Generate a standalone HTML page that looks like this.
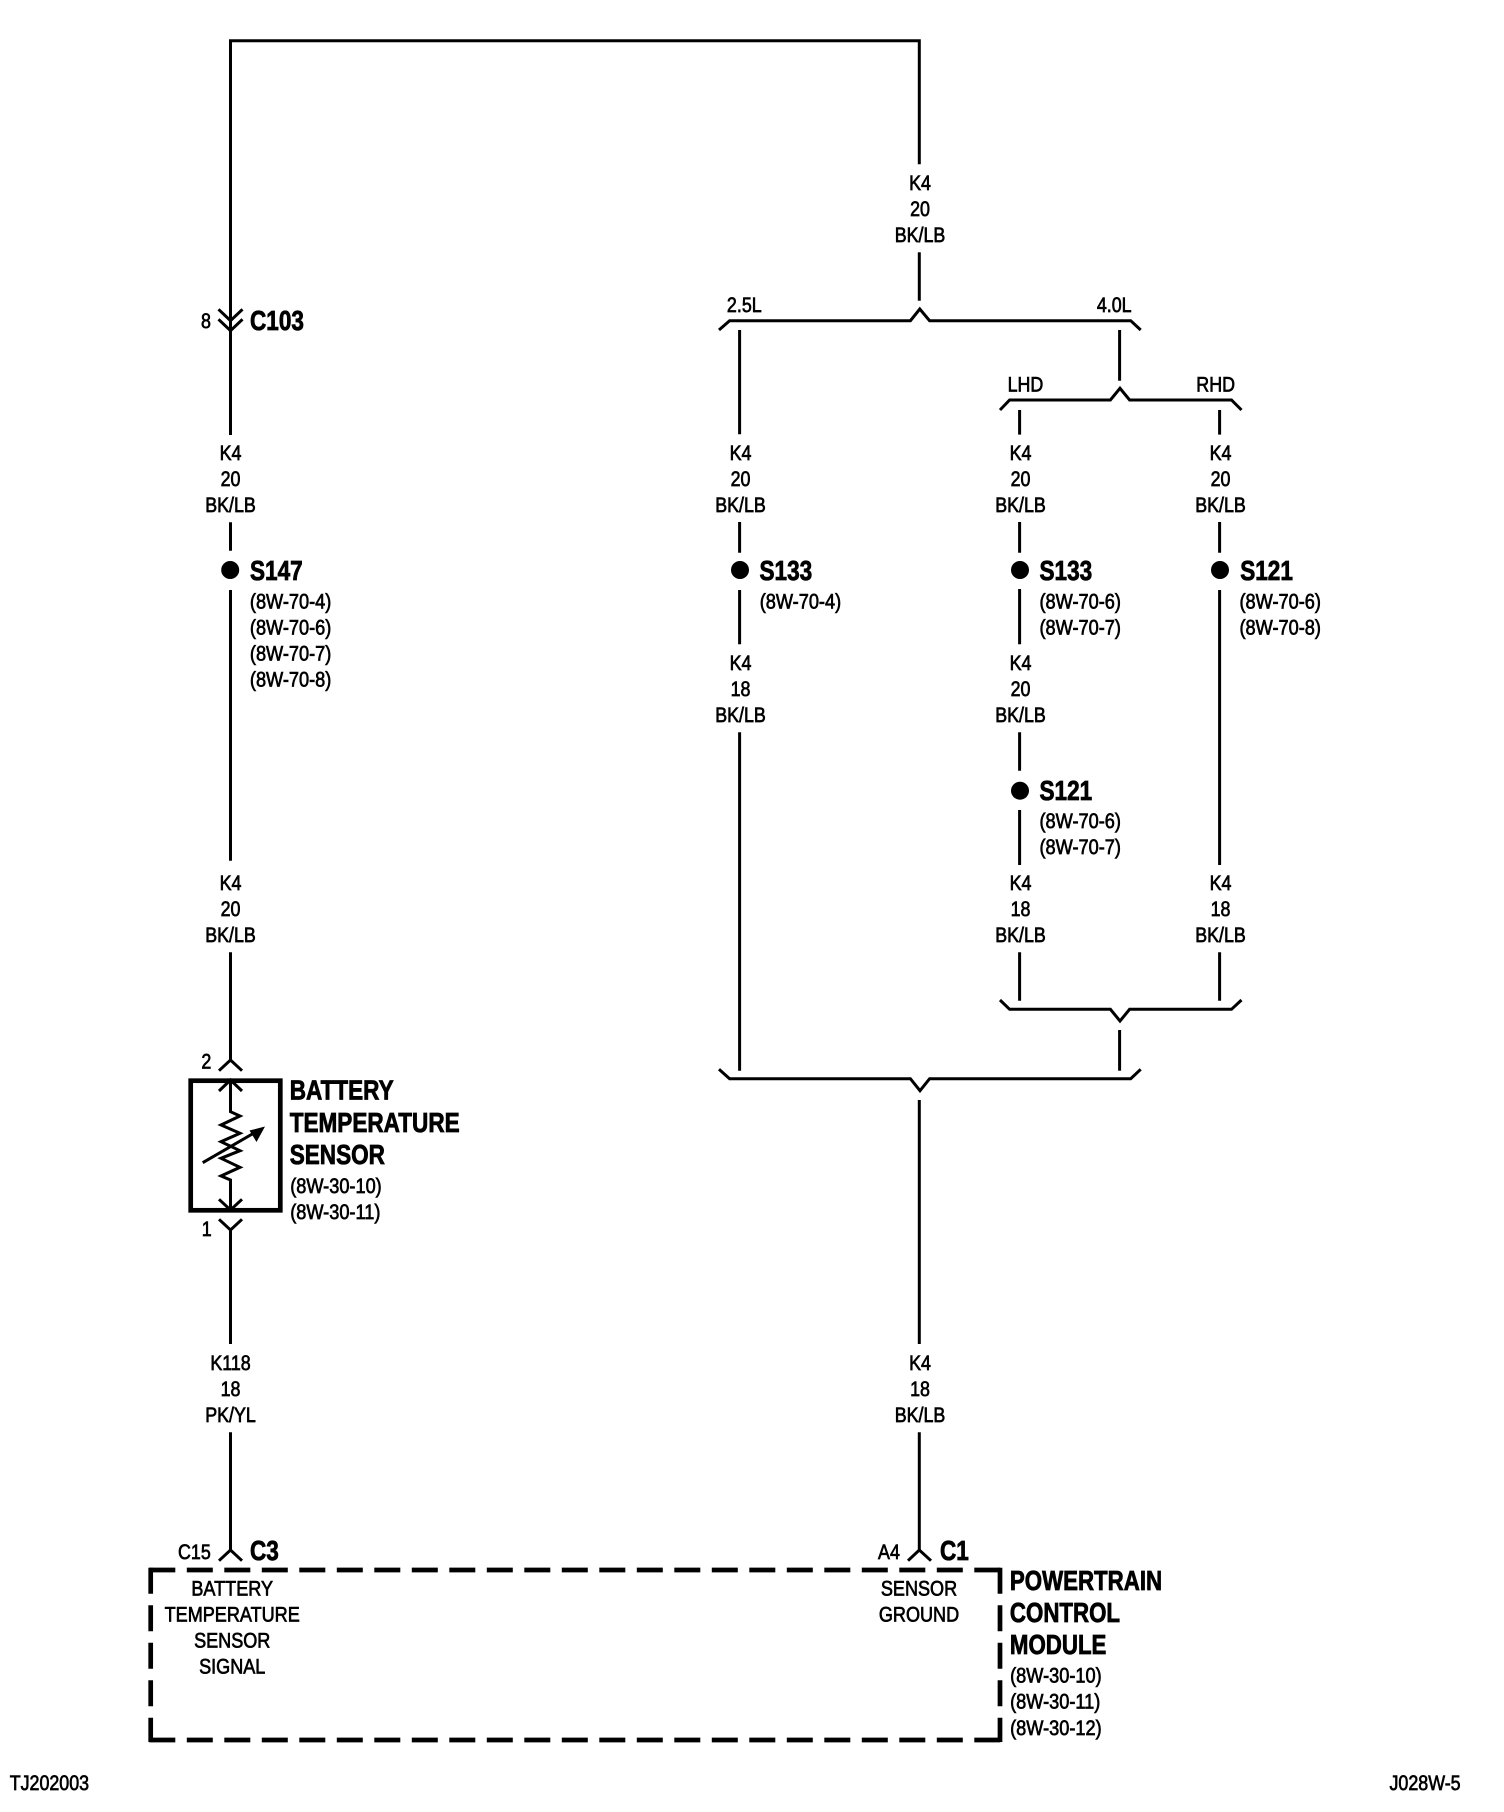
<!DOCTYPE html>
<html>
<head>
<meta charset="utf-8">
<title>Battery Temperature Sensor Wiring Diagram</title>
<style>
html,body{margin:0;padding:0;background:#fff;width:1504px;height:1812px;overflow:hidden}
svg{display:block}
.w{fill:none;stroke:#000;stroke-width:3;stroke-linejoin:miter;stroke-linecap:butt}
text{font-family:"Liberation Sans",sans-serif;fill:#000;stroke:#000;stroke-width:.7;text-rendering:geometricPrecision}
.r{font-size:21px}
.m{font-size:21px;text-anchor:middle}
.b{font-size:27.5px;font-weight:bold;stroke-width:.8}
.d{fill:none;stroke:#000;stroke-width:4.7;stroke-dasharray:26 11.5}
</style>
</head>
<body>
<svg width="1504" height="1812" viewBox="0 0 1504 1812" xmlns="http://www.w3.org/2000/svg">
<!-- Wires -->
<g class="w">
<path d="M230.5 435V40.7H919.3V164.3"/>
<path d="M919.3 252.3V300.7"/>
<path d="M218.5 309.3L230.5 320.7L242.5 309.3"/>
<path d="M218.5 319.3L230.5 330.7L242.5 319.3"/>
<path d="M230.5 522.3V550.7M230.5 590V860.7M230.5 952.3V1060"/>
<path d="M230.5 1230V1344M230.5 1432.3V1550"/>
<path d="M219 1070.7L230.5 1060L242 1070.7"/>
<path d="M219 1219.3L230.5 1230L242 1219.3"/>
<path d="M219 1560.7L230.5 1550L242 1560.7"/>

<path d="M719 330L729.6 320.7H910.4L919.8 309L929.6 320.7H1130.7L1140.7 330"/>
<path d="M739.6 330V434.3M739.6 522V552.7M739.6 590V644.3M739.6 732.3V1070.7"/>
<path d="M1119.6 330V380.7"/>
<path d="M1000 410L1009.6 400H1110.4L1120 388.3L1129.6 400H1231.5L1241.5 410"/>
<path d="M1019.6 410V434.6M1019.6 522V552.7M1019.6 589V644.3M1019.6 732.3V770.7M1019.6 810V865M1019.6 952.3V1000.7"/>
<path d="M1219.6 410V434.6M1219.6 522V552.7M1219.6 590V865M1219.6 952.3V1000.7"/>
<path d="M1000 1000L1009.6 1009.3H1110.4L1120 1021L1129.6 1009.3H1231.5L1241.5 1000"/>
<path d="M1119.6 1030V1070.7"/>
<path d="M719 1069.3L729.6 1078.7H910.4L920 1090.7L929.6 1078.7H1130.7L1140.7 1069.3"/>
<path d="M919.3 1100V1344M919.3 1432.3V1550"/>
<path d="M908 1560.7L919.3 1550L931 1560.7"/>
</g>

<!-- Splices -->
<circle cx="230.2" cy="570" r="9"/>
<circle cx="740" cy="570" r="9"/>
<circle cx="1020" cy="570" r="9"/>
<circle cx="1220" cy="570" r="9"/>
<circle cx="1020" cy="790.7" r="9"/>

<!-- Sensor -->
<rect x="190.7" y="1080.7" width="89.6" height="129.6" fill="none" stroke="#000" stroke-width="4.7"/>
<g class="w">
<path d="M219 1091L230.5 1080L242 1091"/>
<path d="M219 1199.3L230.5 1210L242 1199.3"/>
<path d="M230.5 1080V1111.7L240 1116L221 1125L240 1133.3L221 1141.7L240 1150.7L221 1158.3L240 1167.3L221 1176L230.5 1180V1210"/>
<path d="M202.7 1162.7L254 1133"/>
</g>
<path d="M265 1126.5L249.5 1130.5L256.5 1142Z"/>

<!-- PCM dashed box -->
<path class="d" d="M149.3 1570H1002.4"/>
<path class="d" d="M149.3 1740H1002.4"/>
<path class="d" d="M150.7 1567.7V1742"/>
<path class="d" d="M1000 1567.7V1742"/>

<g transform="translate(-.5 -.9)">
<!-- Wire labels -->
<g transform="translate(920.5 0) scale(.85 1)">
<text class="m" y="190.7">K4</text><text class="m" y="216.7">20</text><text class="m" y="242.7">BK/LB</text>
</g>
<g transform="translate(231 0) scale(.85 1)">
<text class="m" y="460.7">K4</text><text class="m" y="486.7">20</text><text class="m" y="512.7">BK/LB</text>
<text class="m" y="890.7">K4</text><text class="m" y="916.7">20</text><text class="m" y="942.7">BK/LB</text>
<text class="m" y="1370.7">K118</text><text class="m" y="1396.7">18</text><text class="m" y="1422.7">PK/YL</text>
</g>
<g transform="translate(741 0) scale(.85 1)">
<text class="m" y="460.7">K4</text><text class="m" y="486.7">20</text><text class="m" y="512.7">BK/LB</text>
<text class="m" y="670.7">K4</text><text class="m" y="696.7">18</text><text class="m" y="722.7">BK/LB</text>
</g>
<g transform="translate(1021 0) scale(.85 1)">
<text class="m" y="460.7">K4</text><text class="m" y="486.7">20</text><text class="m" y="512.7">BK/LB</text>
<text class="m" y="670.7">K4</text><text class="m" y="696.7">20</text><text class="m" y="722.7">BK/LB</text>
<text class="m" y="890.7">K4</text><text class="m" y="916.7">18</text><text class="m" y="942.7">BK/LB</text>
</g>
<g transform="translate(1221 0) scale(.85 1)">
<text class="m" y="460.7">K4</text><text class="m" y="486.7">20</text><text class="m" y="512.7">BK/LB</text>
<text class="m" y="890.7">K4</text><text class="m" y="916.7">18</text><text class="m" y="942.7">BK/LB</text>
</g>
<g transform="translate(920.5 0) scale(.85 1)">
<text class="m" y="1370.7">K4</text><text class="m" y="1396.7">18</text><text class="m" y="1422.7">BK/LB</text>
</g>

<!-- Option labels -->
<g transform="scale(.85 1)">
<text class="r" x="855.8" y="313">2.5L</text>
<text class="r" x="1291" y="313">4.0L</text>
<text class="r" x="1186" y="392.3">LHD</text>
<text class="r" x="1408" y="392.3">RHD</text>
</g>

<!-- Splice & connector labels -->
<g transform="translate(250.5 0) scale(.82 1)">
<text class="b" y="330.7">C103</text>
<text class="b" y="580.7">S147</text>
<text class="b" y="1560.8">C3</text>
</g>
<g transform="translate(760 0) scale(.82 1)"><text class="b" y="580.7">S133</text></g>
<g transform="translate(1040 0) scale(.82 1)">
<text class="b" y="580.7">S133</text>
<text class="b" y="800.7">S121</text>
</g>
<g transform="translate(1240.7 0) scale(.82 1)"><text class="b" y="580.7">S121</text></g>
<g transform="translate(940.5 0) scale(.82 1)"><text class="b" y="1560.8">C1</text></g>

<g transform="translate(290.2 0) scale(.82 1)">
<text class="b" y="1100.4">BATTERY</text>
<text class="b" y="1132.8">TEMPERATURE</text>
<text class="b" y="1164.9">SENSOR</text>
</g>
<g transform="translate(1010.4 0) scale(.81 1)">
<text class="b" y="1591">POWERTRAIN</text>
<text class="b" y="1623">CONTROL</text>
<text class="b" y="1655">MODULE</text>
</g>

<!-- Pin labels -->
<g transform="scale(.85 1)">
<text class="r" x="237" y="328.7">8</text>
<text class="r" x="237.5" y="1069.3">2</text>
<text class="r" x="238" y="1236.7">1</text>
<text class="r" x="210" y="1559.7">C15</text>
<text class="r" x="1033.6" y="1559.7">A4</text>
</g>

<!-- References -->
<g transform="translate(250.4 0) scale(.865 1)">
<text class="r" y="609.2">(8W-70-4)</text>
<text class="r" y="635.2">(8W-70-6)</text>
<text class="r" y="661.2">(8W-70-7)</text>
<text class="r" y="687.2">(8W-70-8)</text>
</g>
<g transform="translate(760.2 0) scale(.865 1)"><text class="r" y="609.2">(8W-70-4)</text></g>
<g transform="translate(1040 0) scale(.865 1)">
<text class="r" y="609.2">(8W-70-6)</text>
<text class="r" y="635.2">(8W-70-7)</text>
<text class="r" y="829">(8W-70-6)</text>
<text class="r" y="855">(8W-70-7)</text>
</g>
<g transform="translate(1240 0) scale(.865 1)">
<text class="r" y="609.2">(8W-70-6)</text>
<text class="r" y="635.2">(8W-70-8)</text>
</g>
<g transform="translate(290.7 0) scale(.865 1)">
<text class="r" y="1193.8">(8W-30-10)</text>
<text class="r" y="1219.8">(8W-30-11)</text>
</g>
<g transform="translate(1010.6 0) scale(.865 1)">
<text class="r" y="1683.4">(8W-30-10)</text>
<text class="r" y="1709.4">(8W-30-11)</text>
<text class="r" y="1735.8">(8W-30-12)</text>
</g>

<!-- Inside PCM -->
<g transform="translate(232.7 0) scale(.86 1)">
<text class="m" y="1596.5">BATTERY</text>
<text class="m" y="1622.5">TEMPERATURE</text>
<text class="m" y="1648.5">SENSOR</text>
<text class="m" y="1674.2">SIGNAL</text>
</g>
<g transform="translate(919.5 0) scale(.86 1)">
<text class="m" y="1596.5">SENSOR</text>
<text class="m" y="1622.5">GROUND</text>
</g>

<!-- Footer -->
<g transform="translate(10.2 0) scale(.85 1)"><text class="r" y="1790.7">TJ202003</text></g>
<g transform="translate(1390 0) scale(.85 1)"><text class="r" y="1790.7">J028W-5</text></g>
</g>
</svg>
</body>
</html>
